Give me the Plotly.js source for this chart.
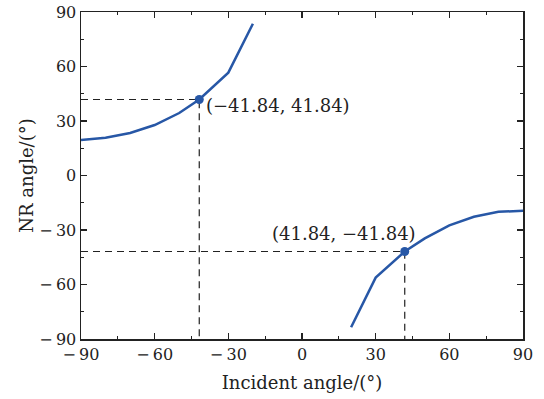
<!DOCTYPE html>
<html>
<head>
<meta charset="utf-8">
<script src="https://cdn.plot.ly/plotly-3.0.1.min.js"></script>
<style>html,body{margin:0;padding:0;background:#fff;}</style>
</head>
<body>
<div id="chart" style="width:544px;height:399px;"></div>
<script>
// Left branch
const leftX = [-90, -80, -70, -60, -50, -41.84, -30, -20];
const leftY = [19.5, 20.8, 23.4, 27.8, 34.4, 41.84, 56.6, 83.5];
// Right branch
const rightX = [20, 30, 41.84, 50, 60, 70, 80, 90];
const rightY = [-83.5, -56.2, -41.84, -34.6, -27.4, -22.7, -20.0, -19.4];
// Marked points
const markX = [-41.84, 41.84];
const markY = [41.84, -41.84];
const markLabels = ["(\u221241.84, 41.84)", "(41.84, \u221241.84)"];
const tickVals = [-90, -60, -30, 0, 30, 60, 90];
const tickText = ["\u2212\u200990", "\u2212\u200960", "\u2212\u200930", "0", "30", "60", "90"];

const blue = "#2757a6";
const font = "DejaVu Serif, serif";

const traces = [
  {x: [-90, markX[0], markX[0]], y: [markY[0], markY[0], -90], mode: "lines",
   line: {color: "#222", width: 1.2, dash: "7px,5px"}, hoverinfo: "skip"},
  {x: [-90, markX[1], markX[1]], y: [markY[1], markY[1], -90], mode: "lines",
   line: {color: "#222", width: 1.2, dash: "7px,5px"}, hoverinfo: "skip"},
  {x: leftX, y: leftY, mode: "lines", line: {color: blue, width: 2.5}},
  {x: rightX, y: rightY, mode: "lines", line: {color: blue, width: 2.5}},
  {x: markX, y: markY, mode: "markers", marker: {color: blue, size: 9}}
];

const axisCommon = {
  range: [-90, 90], tickvals: tickVals, ticktext: tickText, ticks: "inside", ticklen: 6, tickwidth: 1.2,
  tickcolor: "#222", showline: true, linecolor: "#222", linewidth: 1.5, mirror: "ticks",
  showgrid: false, zeroline: false, tickfont: {family: font, size: 16, color: "#222"},
  minor: {dtick: 15, tick0: -90, ticks: "inside", ticklen: 3, tickwidth: 1, tickcolor: "#222", showgrid: false}
};

const layout = {
  width: 544, height: 399,
  margin: {l: 81, r: 21, t: 12, b: 60},
  paper_bgcolor: "#fff", plot_bgcolor: "#fff",
  showlegend: false,
  xaxis: Object.assign({}, axisCommon, {
    title: {text: "Incident angle/(°)", font: {family: font, size: 18, color: "#222"}, standoff: 13}
  }),
  yaxis: Object.assign({}, axisCommon, {
    title: {text: "NR angle/(°)", font: {family: font, size: 18, color: "#222"}, standoff: 1}
  }),
  annotations: [
    {x: markX[0], y: markY[0], text: markLabels[0], showarrow: false, xanchor: "left", yanchor: "middle",
     xshift: 5, yshift: -6, font: {family: font, size: 18, color: "#222"}},
    {x: markX[1], y: markY[1], text: markLabels[1], showarrow: false, xanchor: "right", yanchor: "bottom",
     xshift: 13, yshift: 6, font: {family: font, size: 18, color: "#222"}}
  ]
};

Plotly.newPlot("chart", traces, layout, {displayModeBar: false, staticPlot: true});
</script>
</body>
</html>
